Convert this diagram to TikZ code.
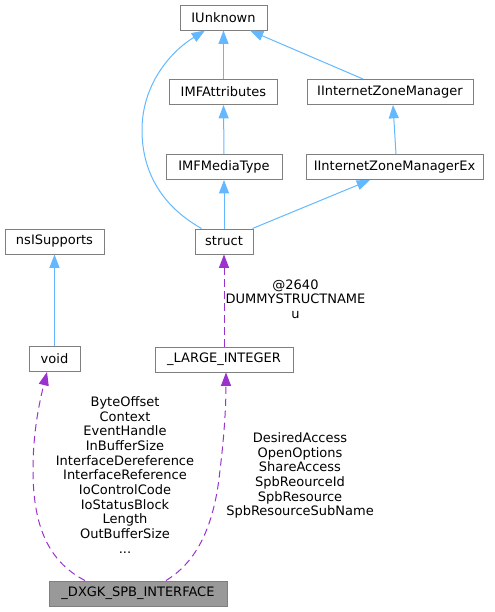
\documentclass[tikz,border=0pt]{standalone}
\usepackage{fontspec}
\setmainfont{DejaVu Sans}
\usetikzlibrary{arrows.meta,calc}
\definecolor{inhblue}{HTML}{63B8FF}
\definecolor{usepurple}{HTML}{9A32CD}
\definecolor{boxgray}{HTML}{7F7F7F}
\definecolor{mainfill}{HTML}{999999}

\begin{document}
\begin{tikzpicture}[x=0.75pt,y=0.75pt,yscale=-1,xscale=1,
  cls/.style={draw=boxgray,line width=0.75pt,fill=white,minimum height=18.75pt,inner sep=0pt,font=\fontsize{9.75}{11}\selectfont},
  inh/.style={draw=inhblue,line width=0.75pt,-{Triangle[length=10pt,width=7.5pt]}},
  uses/.style={draw=usepurple,line width=0.75pt,dash pattern=on 5.5pt off 3.5pt,-{Triangle[length=10pt,width=7.5pt]}},
  lbl/.style={align=center,inner sep=0pt,font=\fontsize{9.75}{11}\selectfont}]
\useasboundingbox (0,0) rectangle (494,612);

% classes
\node [cls,minimum width=65.25pt] (iunk) at (223.5,17.5) {IUnknown};
\node [cls,minimum width=81pt] (imfattr) at (223.5,92) {IMFAttributes};
\node [cls,minimum width=124.5pt] (izm) at (390,92) {IInternetZoneManager};
\node [cls,minimum width=87pt] (imfmedia) at (224,167) {IMFMediaType};
\node [cls,minimum width=132.75pt] (izmex) at (394.5,167) {IInternetZoneManagerEx};
\node [cls,minimum width=43.5pt] (struct) at (224,241.5) {struct};
\node [cls,minimum width=74.25pt] (nsisup) at (54.5,241.5) {nsISupports};
\node [cls,minimum width=38.25pt] (void) at (54.5,359) {void};
\node [cls,minimum width=103.5pt] (largeint) at (224,359.5) {\_LARGE\_INTEGER};
\node [cls,fill=mainfill,minimum width=133.5pt] (dxgk) at (138,593.5) {\_DXGK\_SPB\_INTERFACE};

% inheritance
\draw [inh] (imfattr.north) -- (iunk.south);
\draw [inh] ($(izm.north)+(-27,0)$) -- ($(iunk.south)+(26.5,0)$);
\draw [inh] (imfmedia.north) -- (imfattr.south);
\draw [inh] ($(izmex.north)+(1.5,0)$) -- ($(izm.south)+(3,0)$);
\draw [inh] (struct.north) -- (imfmedia.south);
\draw [inh] ($(struct.north east)+(-1,0)$) -- ($(izmex.south)+(-24.5,0)$);
\draw [inh] ($(struct.north west)+(7,0)$) .. controls (160,205) and (142,170) .. (142,130) .. controls (142,85) and (170,52) .. ($(iunk.south)+(-18.5,0)$);
\draw [inh] (void.north) -- (nsisup.south);

% usage
\draw [uses] (largeint.north) -- (struct.south);
\node [lbl] (lblu) at (295.5,299) {@2640\\DUMMYSTRUCTNAME\\u};
\draw [uses] ($(dxgk.north)+(-53,0)$) .. controls (45,560) and (33,520) .. (33,470) .. controls (33,430) and (40,400) .. ($(void.south)+(-7.5,0)$);
\node [lbl] (lblvoid) at (125,475) {ByteOffset\\Context\\EventHandle\\InBufferSize\\InterfaceDereference\\InterfaceReference\\IoControlCode\\IoStatusBlock\\Length\\OutBufferSize\\...};
\draw [uses] ($(dxgk.north)+(28,0)$) .. controls (200,560) and (215,520) .. (220,470) .. controls (225,430) and (226,400) .. ($(largeint.south)+(2,0)$);
\node [lbl] (lblint) at (300,475.5) {DesiredAccess\\OpenOptions\\ShareAccess\\SpbReourceId\\SpbResource\\SpbResourceSubName};

\end{tikzpicture}
\end{document}
